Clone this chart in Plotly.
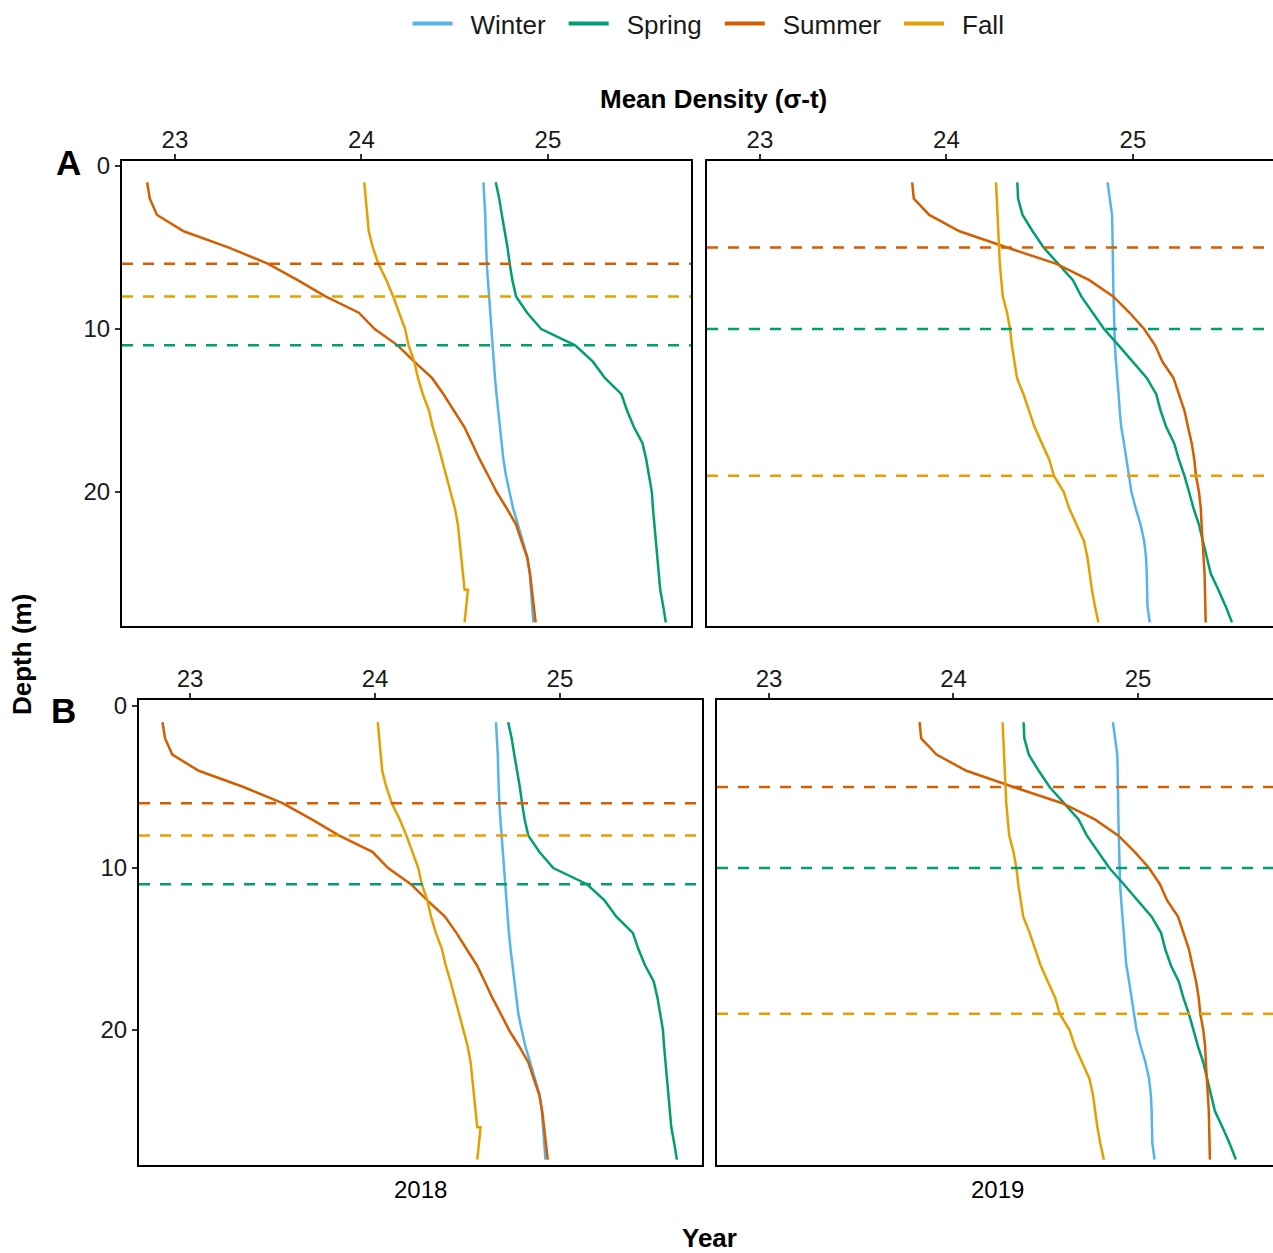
import plotly.graph_objects as go

# ---------------- data ----------------
seasons = ["Winter", "Spring", "Summer", "Fall"]
colors = ["#56B4E9", "#009E73", "#D55E00", "#E69F00"]
years = ["2018", "2019"]

depth = list(range(1, 29))
depth_fall_2018 = list(range(1, 27)) + [26, 27, 28]

winter_2018 = [24.654, 24.660, 24.664, 24.666, 24.668, 24.672, 24.678, 24.684, 24.690, 24.696,
               24.704, 24.710, 24.716, 24.724, 24.733, 24.743, 24.753, 24.761, 24.775, 24.793,
               24.813, 24.839, 24.864, 24.890, 24.902, 24.908, 24.914, 24.922]
spring_2018 = [24.720, 24.739, 24.753, 24.769, 24.783, 24.795, 24.809, 24.829, 24.888, 24.964,
               25.146, 25.241, 25.305, 25.394, 25.424, 25.460, 25.507, 25.527, 25.543, 25.557,
               25.563, 25.571, 25.579, 25.587, 25.594, 25.602, 25.618, 25.632]
summer_2018 = [22.851, 22.865, 22.904, 23.047, 23.289, 23.500, 23.658, 23.807, 23.986, 24.071,
               24.194, 24.283, 24.378, 24.440, 24.495, 24.551, 24.593, 24.634, 24.680, 24.725,
               24.779, 24.829, 24.858, 24.888, 24.904, 24.914, 24.924, 24.934]
fall_2018 = [24.015, 24.025, 24.031, 24.039, 24.061, 24.091, 24.134, 24.170, 24.204, 24.234,
             24.253, 24.283, 24.303, 24.329, 24.362, 24.382, 24.408, 24.432, 24.452, 24.476,
             24.501, 24.517, 24.527, 24.535, 24.547, 24.553, 24.571, 24.561, 24.553]

winter_2019 = [24.864, 24.878, 24.888, 24.890, 24.890, 24.892, 24.894, 24.896, 24.898, 24.900,
               24.903, 24.909, 24.917, 24.923, 24.929, 24.937, 24.952, 24.964, 24.976, 24.992,
               25.015, 25.041, 25.060, 25.070, 25.074, 25.076, 25.078, 25.090]
spring_2019 = [24.380, 24.384, 24.408, 24.462, 24.521, 24.600, 24.678, 24.723, 24.786, 24.845,
               24.923, 25.001, 25.074, 25.125, 25.148, 25.178, 25.221, 25.246, 25.276, 25.301,
               25.325, 25.354, 25.374, 25.393, 25.417, 25.458, 25.497, 25.531]
summer_2019 = [23.816, 23.825, 23.908, 24.070, 24.325, 24.590, 24.766, 24.894, 24.982, 25.060,
               25.119, 25.158, 25.217, 25.246, 25.276, 25.295, 25.315, 25.329, 25.338, 25.354,
               25.364, 25.368, 25.374, 25.380, 25.384, 25.386, 25.388, 25.390]
fall_2019 = [24.266, 24.270, 24.274, 24.276, 24.280, 24.286, 24.294, 24.302, 24.325, 24.341,
             24.351, 24.364, 24.378, 24.413, 24.443, 24.472, 24.511, 24.551, 24.576, 24.629,
             24.658, 24.698, 24.737, 24.756, 24.766, 24.780, 24.796, 24.815]

# mixed layer depths (m) per season
mld_2018 = {"Spring": 11, "Summer": 6, "Fall": 8}
mld_2019 = {"Spring": 10, "Summer": 5, "Fall": 19}

x_ticks = [23, 24, 25]
y_ticks = [0, 10, 20]

profiles = {
    "2018": {"Winter": (winter_2018, depth), "Spring": (spring_2018, depth),
             "Summer": (summer_2018, depth), "Fall": (fall_2018, depth_fall_2018)},
    "2019": {"Winter": (winter_2019, depth), "Spring": (spring_2019, depth),
             "Summer": (summer_2019, depth), "Fall": (fall_2019, depth)},
}
mlds = {"2018": mld_2018, "2019": mld_2019}

# ---------------- layout geometry ----------------
W, H = 1273, 1253
def px_x(a, b):
    return [a / W, b / W]
def px_y(top, bottom):
    return [1 - bottom / H, 1 - top / H]

panels = [
    ("2018", px_x(122, 691), px_y(161, 626), [22.716, 25.767], [28.22, -0.31], True),
    ("2019", px_x(707, 1273), px_y(161, 626), [22.716, 25.751], [28.22, -0.31], False),
    ("2018", px_x(139, 702), px_y(700, 1165), [22.724, 25.768], [28.33, -0.37], True),
    ("2019", px_x(717, 1273), px_y(700, 1165), [22.718, 25.732], [28.33, -0.37], False),
]

fig = go.Figure()
FONT = "Liberation Sans, Arial, sans-serif"
TICKCOL = "#333333"
TICKFONT = dict(size=24, color="#1a1a1a", family=FONT)
shapes = []

for i, (year, xd, yd, xr, yr, showy) in enumerate(panels):
    n = i + 1
    xa = "x" if n == 1 else f"x{n}"
    ya = "y" if n == 1 else f"y{n}"
    for season, col in zip(seasons, colors):
        vals, dep = profiles[year][season]
        fig.add_trace(go.Scatter(x=vals, y=dep, mode="lines", xaxis=xa, yaxis=ya,
                                 line=dict(color=col, width=2.5), showlegend=False,
                                 hoverinfo="skip"))
        if season in mlds[year]:
            shapes.append(dict(type="line", xref=f"{xa} domain", yref=ya,
                               x0=0, x1=1, y0=mlds[year][season], y1=mlds[year][season],
                               line=dict(color=col, width=2.5, dash="11px,10px"),
                               layer="above"))
    xkey = "xaxis" if n == 1 else f"xaxis{n}"
    ykey = "yaxis" if n == 1 else f"yaxis{n}"
    fig.layout[xkey] = dict(domain=xd, range=xr, anchor=ya, side="top",
                            tickvals=x_ticks, ticks="outside", ticklen=5, tickwidth=1.5,
                            tickcolor=TICKCOL, showline=True, mirror=True, linecolor="black",
                            linewidth=2, showgrid=False, zeroline=False, automargin=False,
                            ticklabelstandoff=-4, tickfont=TICKFONT)
    fig.layout[ykey] = dict(domain=yd, range=yr, anchor=xa,
                            tickvals=y_ticks if showy else [], ticks="outside" if showy else "",
                            ticklen=5, tickwidth=1.5, tickcolor=TICKCOL,
                            showticklabels=showy, showline=True, mirror=showy,
                            linecolor="black", linewidth=2, showgrid=False, zeroline=False,
                            automargin=False, tickfont=TICKFONT)

# legend entries
for season, col in zip(seasons, colors):
    fig.add_trace(go.Scatter(x=[None], y=[None], mode="lines",
                             name="\u2002" + season + "\u2002",
                             line=dict(color=col, width=4), xaxis="x", yaxis="y"))

annotations = [
    dict(text="<b>Mean Density (σ-t)</b>", x=713 / W, y=1 - 99 / H, font=dict(size=26)),
    dict(text="<b>Depth (m)</b>", x=22 / W, y=1 - 655 / H, textangle=-90, font=dict(size=26)),
    dict(text="<b>Year</b>", x=709 / W, y=1 - 1238 / H, font=dict(size=26)),
    dict(text="2018", x=420 / W, y=1 - 1189 / H, font=dict(size=24)),
    dict(text="2019", x=997 / W, y=1 - 1189 / H, font=dict(size=24)),
    dict(text="<b>A</b>", x=68 / W, y=1 - 162 / H, font=dict(size=35)),
    dict(text="<b>B</b>", x=63 / W, y=1 - 710 / H, font=dict(size=35)),
]
for a in annotations:
    a.update(xref="paper", yref="paper", showarrow=False, xanchor="center", yanchor="middle")
    a["font"].update(family=FONT, color="black")

fig.update_layout(
    width=W, height=H, margin=dict(l=0, r=0, t=0, b=0),
    plot_bgcolor="white", paper_bgcolor="white",
    font=dict(family=FONT, color="black"),
    shapes=shapes, annotations=annotations,
    legend=dict(orientation="h", x=715 / W, xanchor="center", y=1, yanchor="top",
                font=dict(size=26, family=FONT, color="#1a1a1a"), itemwidth=40,
                bgcolor="rgba(0,0,0,0)"),
)

fig.write_html("out.html")
